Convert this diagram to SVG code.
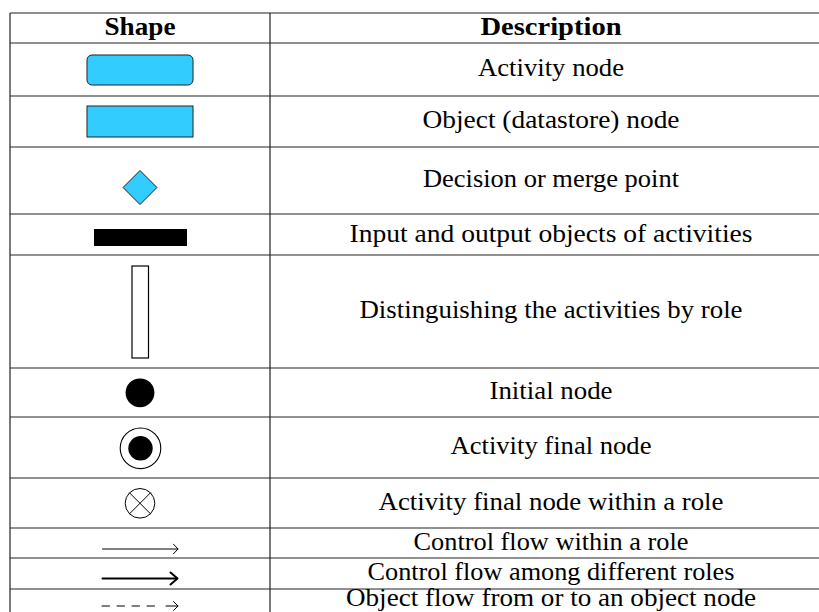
<svg xmlns="http://www.w3.org/2000/svg" width="819" height="612" viewBox="0 0 819 612">
<style>
.t{font-family:"Liberation Serif","Times New Roman",serif;font-size:24.5px;fill:#000;text-anchor:middle}
.h{font-weight:bold}
.grid{stroke:#222;stroke-width:1.2;fill:none}
.blue{fill:#33CCFF;stroke:#222;stroke-width:1}
.ln{stroke:#000;fill:none;stroke-linecap:round;stroke-linejoin:round}
</style>
<rect width="819" height="612" fill="#fff"/>
<g id="grid" class="grid">
<line x1="10" y1="13" x2="819" y2="13"/>
<line x1="10" y1="43" x2="819" y2="43"/>
<line x1="10" y1="96" x2="819" y2="96"/>
<line x1="10" y1="147" x2="819" y2="147"/>
<line x1="10" y1="214" x2="819" y2="214"/>
<line x1="10" y1="255" x2="819" y2="255"/>
<line x1="10" y1="368" x2="819" y2="368"/>
<line x1="10" y1="417" x2="819" y2="417"/>
<line x1="10" y1="478" x2="819" y2="478"/>
<line x1="10" y1="528" x2="819" y2="528"/>
<line x1="10" y1="558" x2="819" y2="558"/>
<line x1="10" y1="589" x2="819" y2="589"/>
<line x1="10" y1="13" x2="10" y2="612"/>
<line x1="270" y1="13" x2="270" y2="612"/>
</g>
<g id="header">
<text class="t h" x="140" y="34.5" textLength="71" lengthAdjust="spacingAndGlyphs">Shape</text>
<text class="t h" x="551" y="34.5" textLength="141" lengthAdjust="spacingAndGlyphs">Description</text>
</g>
<g id="row-activity">
<rect class="blue" x="87" y="55" width="106" height="30" rx="5"/>
<text class="t" x="551" y="76" textLength="146" lengthAdjust="spacingAndGlyphs">Activity node</text>
</g>
<g id="row-object">
<rect class="blue" x="87" y="106" width="106" height="31"/>
<text class="t" x="551" y="128" textLength="257" lengthAdjust="spacingAndGlyphs">Object (datastore) node</text>
</g>
<g id="row-decision">
<polygon class="blue" points="140,170.5 157,187.5 140,204.5 123,187.5"/>
<text class="t" x="551" y="187" textLength="256" lengthAdjust="spacingAndGlyphs">Decision or merge point</text>
</g>
<g id="row-io">
<rect x="94" y="229" width="93" height="17" fill="#000"/>
<text class="t" x="551" y="242" textLength="403" lengthAdjust="spacingAndGlyphs">Input and output objects of activities</text>
</g>
<g id="row-role">
<rect x="132" y="266" width="16.5" height="92" fill="#fff" stroke="#000" stroke-width="1.2"/>
<text class="t" x="551" y="318" textLength="383" lengthAdjust="spacingAndGlyphs">Distinguishing the activities by role</text>
</g>
<g id="row-initial">
<circle cx="140" cy="392.8" r="14.4" fill="#000"/>
<text class="t" x="551" y="399" textLength="123" lengthAdjust="spacingAndGlyphs">Initial node</text>
</g>
<g id="row-final">
<circle cx="140.5" cy="448.3" r="20.3" fill="#fff" stroke="#000" stroke-width="1.1"/>
<circle cx="140.5" cy="448.3" r="12.2" fill="#000"/>
<text class="t" x="551" y="454" textLength="201" lengthAdjust="spacingAndGlyphs">Activity final node</text>
</g>
<g id="row-final-role">
<circle cx="140" cy="503.3" r="14.8" fill="#fff" stroke="#000" stroke-width="1"/>
<line class="ln" stroke-width="1" x1="129.5" y1="492.8" x2="150.5" y2="513.8"/>
<line class="ln" stroke-width="1" x1="150.5" y1="492.8" x2="129.5" y2="513.8"/>
<text class="t" x="551" y="509.5" textLength="345" lengthAdjust="spacingAndGlyphs">Activity final node within a role</text>
</g>
<g id="row-control-within">
<line class="ln" stroke-width="1" x1="102.5" y1="549" x2="178" y2="549"/>
<polyline class="ln" stroke-width="1" points="173.5,544.2 178,549 173.5,553.8"/>
<text class="t" x="551" y="549.5" textLength="275" lengthAdjust="spacingAndGlyphs">Control flow within a role</text>
</g>
<g id="row-control-among">
<line class="ln" stroke-width="2" x1="102.5" y1="578.5" x2="177" y2="578.5"/>
<polyline class="ln" stroke-width="2" points="170.5,572.5 177.5,578.5 170.5,584.5"/>
<text class="t" x="551" y="579.5" textLength="367" lengthAdjust="spacingAndGlyphs">Control flow among different roles</text>
</g>
<g id="row-object-flow">
<line class="ln" stroke-width="1" stroke-linecap="butt" stroke-dasharray="7.5 7.5" x1="102" y1="606" x2="155" y2="606"/>
<line class="ln" stroke-width="1" stroke-linecap="butt" x1="166" y1="606" x2="178" y2="606"/>
<polyline class="ln" stroke-width="1" points="173.5,601.5 178,606 173.5,610.5"/>
<text class="t" x="551" y="606" textLength="410" lengthAdjust="spacingAndGlyphs">Object flow from or to an object node</text>
</g>
</svg>
